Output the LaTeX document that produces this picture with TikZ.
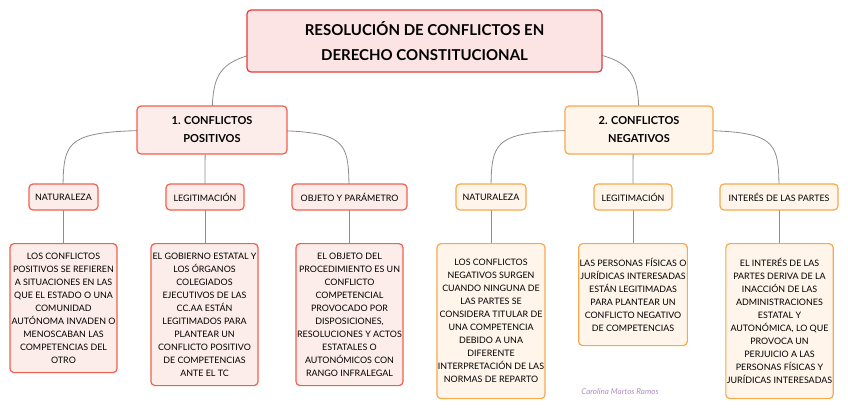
\documentclass[tikz,border=0pt]{standalone}
\usepackage{fontspec}
\setmainfont{Lato}
\begin{document}
\begin{tikzpicture}[x=1pt,y=-1pt,
 bx/.style={rounded corners=4pt, line width=1.2pt, inner sep=1pt, align=center, font=\fontsize{8.9}{13}\selectfont},
 lft/.style={bx, draw={rgb,255:red,240;green,96;blue,77}, fill={rgb,255:red,253;green,237;blue,234}},
 rgt/.style={bx, draw={rgb,255:red,247;green,169;blue,75}, fill={rgb,255:red,255;green,245;blue,234}},
 con/.style={draw={rgb,255:red,140;green,140;blue,140}, line width=0.8pt}]
\useasboundingbox (0,0) rectangle (848,408);
\coordinate (tc) at (424.5,41);
\coordinate (pc) at (212,130);
\coordinate (nc) at (639,130);
\draw[con] (tc) .. controls (212,50) .. (pc);
\draw[con] (tc) .. controls (639,50) .. (nc);
\foreach \x in {63,205,349}{\draw[con] (pc) .. controls (\x,130) .. (\x,197);}
\foreach \x in {491,633,779}{\draw[con] (nc) .. controls (\x,130) .. (\x,197);}
\foreach \x in {63,205,349,491,633,779}{\draw[con] (\x,197) -- (\x,250);}
\node[bx, draw={rgb,255:red,224;green,60;blue,60}, fill={rgb,255:red,252;green,228;blue,228}, minimum width=355pt, minimum height=62pt, font=\fontsize{15}{25}\selectfont\bfseries] (t) at (tc) {RESOLUCIÓN DE CONFLICTOS EN\\DERECHO CONSTITUCIONAL};
\node[lft, minimum width=150pt, minimum height=48pt, font=\fontsize{11}{18}\selectfont\bfseries] (p) at (pc) {1. CONFLICTOS\\POSITIVOS};
\node[rgt, minimum width=148pt, minimum height=48pt, font=\fontsize{11}{18}\selectfont\bfseries] (n) at (nc) {2. CONFLICTOS\\NEGATIVOS};
\node[lft, minimum width=69pt, minimum height=26pt] (p1) at (63.5,197) {NATURALEZA};
\node[lft, minimum width=78pt, minimum height=26pt] (p2) at (205,197) {LEGITIMACIÓN};
\node[lft, minimum width=115pt, minimum height=26pt] (p3) at (349.5,197) {OBJETO Y PARÁMETRO};
\node[rgt, minimum width=70pt, minimum height=26pt] (n1) at (491,197) {NATURALEZA};
\node[rgt, minimum width=78pt, minimum height=26pt] (n2) at (633,197) {LEGITIMACIÓN};
\node[rgt, minimum width=118pt, minimum height=26pt] (n3) at (779,197) {INTERÉS DE LAS PARTES};
\node[lft, minimum width=107pt, minimum height=129pt, anchor=north] (p1d) at (63.5,243) {LOS CONFLICTOS\\POSITIVOS SE REFIEREN\\A SITUACIONES EN LAS\\QUE EL ESTADO O UNA\\COMUNIDAD\\AUTÓNOMA INVADEN O\\MENOSCABAN LAS\\COMPETENCIAS DEL\\OTRO};
\node[lft, minimum width=107pt, minimum height=142pt, anchor=north] (p2d) at (204.5,243) {EL GOBIERNO ESTATAL Y\\LOS ÓRGANOS\\COLEGIADOS\\EJECUTIVOS DE LAS\\CC.AA ESTÁN\\LEGITIMADOS PARA\\PLANTEAR UN\\CONFLICTO POSITIVO\\DE COMPETENCIAS\\ANTE EL TC};
\node[lft, minimum width=107pt, minimum height=142pt, anchor=north] (p3d) at (349.5,243) {EL OBJETO DEL\\PROCEDIMIENTO ES UN\\CONFLICTO\\COMPETENCIAL\\PROVOCADO POR\\DISPOSICIONES,\\RESOLUCIONES Y ACTOS\\ESTATALES O\\AUTONÓMICOS CON\\RANGO INFRALEGAL};
\node[rgt, minimum width=108pt, minimum height=155pt, anchor=north] (n1d) at (491,243) {LOS CONFLICTOS\\NEGATIVOS SURGEN\\CUANDO NINGUNA DE\\LAS PARTES SE\\CONSIDERA TITULAR DE\\UNA COMPETENCIA\\DEBIDO A UNA\\DIFERENTE\\INTERPRETACIÓN DE LAS\\NORMAS DE REPARTO};
\node[rgt, minimum width=108pt, minimum height=102pt, anchor=north] (n2d) at (633,243) {LAS PERSONAS FÍSICAS O\\JURÍDICAS INTERESADAS\\ESTÁN LEGITIMADAS\\PARA PLANTEAR UN\\CONFLICTO NEGATIVO\\DE COMPETENCIAS};
\node[rgt, minimum width=107pt, minimum height=155pt, anchor=north] (n3d) at (779.5,243) {EL INTERÉS DE LAS\\PARTES DERIVA DE LA\\INACCIÓN DE LAS\\ADMINISTRACIONES\\ESTATAL Y\\AUTONÓMICA, LO QUE\\PROVOCA UN\\PERJUICIO A LAS\\PERSONAS FÍSICAS Y\\JURÍDICAS INTERESADAS};
\node[text={rgb,255:red,176;green,140;blue,192}, font=\fontsize{8}{9}\selectfont\itshape] (wm) at (620,392) {Carolina Martos Ramos};
\end{tikzpicture}
\end{document}
